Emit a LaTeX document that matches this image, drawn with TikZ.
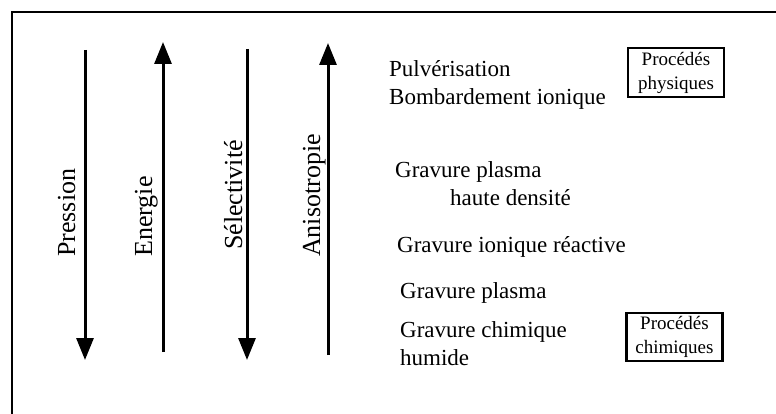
\documentclass[tikz,border=0pt]{standalone}
\usepackage{fontspec}
\setmainfont{Liberation Serif}
\usetikzlibrary{arrows.meta}
\begin{document}
\begin{tikzpicture}[x=1pt,y=-1pt,
  frame/.style={line width=2.8pt},
  axisarrow/.style={line width=3pt,-{Triangle[length=22pt,width=17pt]}},
  axislabel/.style={rotate=90,anchor=base west,inner sep=0pt,font=\fontsize{26}{30}\selectfont},
  method/.style={anchor=base west,inner sep=0pt,font=\fontsize{23}{27}\selectfont},
  kindbox/.style={draw,line width=2.4pt,minimum width=96pt,align=center,inner sep=0pt,
    font=\fontsize{19}{24}\selectfont}]
\useasboundingbox (0,0) rectangle (776,414);
% frame
\coordinate (fbl) at (12,414);
\coordinate (ftl) at (12,12);
\coordinate (ftr) at (776,12);
\draw[frame] (fbl) -- (ftl) -- (ftr);
% arrows
\coordinate (a1s) at (85,50);  \coordinate (a1e) at (85,360);
\coordinate (a2s) at (163,352); \coordinate (a2e) at (163,42);
\coordinate (a3s) at (247,49); \coordinate (a3e) at (247,360);
\coordinate (a4s) at (328,355); \coordinate (a4e) at (328,43);
\draw[axisarrow] (a1s) -- (a1e);
\draw[axisarrow] (a2s) -- (a2e);
\draw[axisarrow] (a3s) -- (a3e);
\draw[axisarrow] (a4s) -- (a4e);
% axis labels
\node[axislabel] (lp) at (75,257) {Pression};
\node[axislabel] (le) at (152,257) {Energie};
\node[axislabel] (ls) at (242,250) {Sélectivité};
\node[axislabel] (la) at (320,257) {Anisotropie};
% methods
\node[method] (m1) at (389,77) {Pulvérisation};
\node[method] (m2) at (389,105) {Bombardement ionique};
\node[method] (m3) at (395,178) {Gravure plasma};
\node[method] (m4) at (450,206) {haute densité};
\node[method] (m5) at (397,252) {Gravure ionique réactive};
\node[method] (m6) at (400,298) {Gravure plasma};
\node[method] (m7) at (400,337) {Gravure chimique};
\node[method] (m8) at (400,365) {humide};
% boxes
\node[kindbox,minimum height=49pt] (bphys) at (676,72.5) {Procédés\\physiques};
\node[kindbox,minimum height=48pt] (bchim) at (674.5,337) {Procédés\\chimiques};
\end{tikzpicture}
\end{document}
